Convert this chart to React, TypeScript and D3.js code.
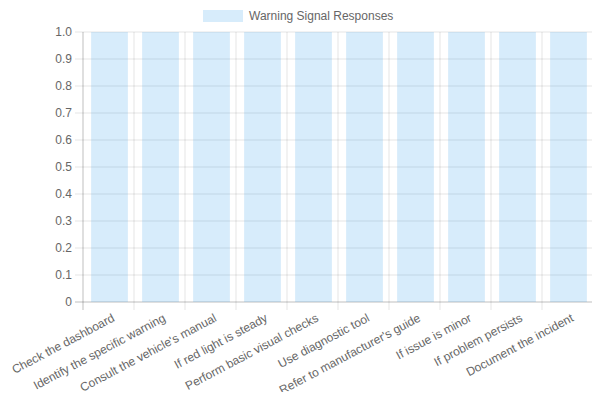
import React from 'react'
import * as d3 from 'd3'

// Chart data
const categories = [
  'Check the dashboard',
  'Identify the specific warning',
  "Consult the vehicle's manual",
  'If red light is steady',
  'Perform basic visual checks',
  'Use diagnostic tool',
  "Refer to manufacturer's guide",
  'If issue is minor',
  'If problem persists',
  'Document the incident',
]
const values = [1, 1, 1, 1, 1, 1, 1, 1, 1, 1]
const yTicks = [0, 0.1, 0.2, 0.3, 0.4, 0.5, 0.6, 0.7, 0.8, 0.9, 1.0]
const seriesName = 'Warning Signal Responses'

const W = 600
const H = 400
const margin = { top: 32, right: 7, bottom: 98, left: 83 }
const font = 'Liberation Sans, Arial, Helvetica, sans-serif'
const barFill = 'rgba(54,162,235,0.2)'
const textColor = '#666'
const gridColor = 'rgba(0,0,0,0.1)'

const App: React.FC = () => {
  const x = d3.scaleBand<string>()
    .domain(categories)
    .range([margin.left, W - margin.right])
  const y = d3.scaleLinear()
    .domain([0, 1])
    .range([H - margin.bottom, margin.top])

  const bw = x.bandwidth()
  const innerBar = bw * 0.72
  const y0 = y(0)

  return (
    <svg width={W} height={H} style={{ display: 'block', margin: -8, fontFamily: font }}>
      <rect width={W} height={H} fill="#fff" />

      {/* legend */}
      <rect x={203} y={10} width={40} height={12} fill={barFill} />
      <text x={249} y={16} dominantBaseline="central" fontSize={12} fill={textColor}>
        {seriesName}
      </text>

      {/* horizontal grid + y ticks */}
      {yTicks.map(t => (
        <g key={t}>
          <line x1={margin.left - 8} x2={W - margin.right} y1={y(t)} y2={y(t)}
            stroke={t === 0 ? 'rgba(0,0,0,0.25)' : gridColor} />
          <text x={margin.left - 11} y={y(t)} textAnchor="end" dominantBaseline="central"
            fontSize={12} fill={textColor}>
            {t === 0 ? '0' : t.toFixed(1)}
          </text>
        </g>
      ))}

      {/* vertical grid at category boundaries */}
      {categories.map((c, i) => (
        <line key={c} x1={(x(c) ?? 0)} x2={(x(c) ?? 0)} y1={margin.top} y2={y0 + 8}
          stroke={i === 0 ? 'rgba(0,0,0,0.25)' : gridColor} />
      ))}
      <line x1={W - margin.right} x2={W - margin.right} y1={margin.top} y2={y0 + 8} stroke={gridColor} />

      {/* bars */}
      {categories.map((c, i) => {
        const cx = (x(c) ?? 0) + bw / 2
        return (
          <rect key={c} x={cx - innerBar / 2 + 1} y={y(values[i])} width={innerBar}
            height={y0 - y(values[i])} fill={barFill} />
        )
      })}

      {/* x labels */}
      {categories.map(c => {
        const cx = (x(c) ?? 0) + bw / 2
        return (
          <text key={c} transform={`translate(${cx + 5},${y0 + 15}) rotate(-28)`}
            textAnchor="end" dominantBaseline="central" fontSize={12} fill={textColor}>
            {c}
          </text>
        )
      })}
    </svg>
  )
}

export default App
